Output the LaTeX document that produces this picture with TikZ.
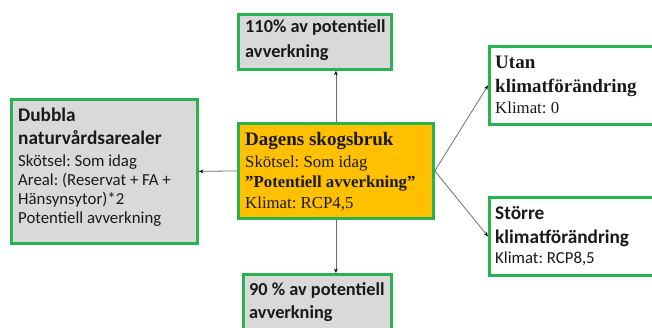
\documentclass[tikz,border=0pt]{standalone}
\usepackage{fontspec}
\newfontfamily\calfont{Carlito}
\newfontfamily\timesfont{Liberation Serif}
\usetikzlibrary{arrows.meta}
\definecolor{boxgreen}{RGB}{40,178,80}
\definecolor{boxgray}{RGB}{217,217,217}
\definecolor{boxorange}{RGB}{255,192,0}
\definecolor{linkgray}{RGB}{110,110,110}
\definecolor{inktext}{RGB}{25,25,25}
\frenchspacing
\begin{document}
\begin{tikzpicture}[x=1pt,y=-1pt,
  card/.style={draw=boxgreen, line width=2.8pt, inner sep=0pt, anchor=north west},
  graycard/.style={card, fill=boxgray},
  orangecard/.style={card, fill=boxorange},
  whitecard/.style={card, fill=white},
  % texts are placed by the baseline of their last line
  txt/.style={anchor=base west, inner sep=0pt, align=left, text=inktext},
  caltxt/.style={txt, font=\calfont\fontsize{16.8}{19}\selectfont},
  timtxt/.style={txt, font=\timesfont\fontsize{16.8}{20.5}\selectfont},
  link/.style={draw=linkgray, line width=0.8pt, -{Stealth[length=4.5pt,width=3.6pt,black]}}]
\useasboundingbox (0,0) rectangle (652,327);
\clip (0,0) rectangle (652,327);

% boxes
\node[graycard, minimum width=153pt, minimum height=55pt] (top) at (237,13) {};
\node[orangecard, minimum width=195pt, minimum height=95pt] (main) at (237,122) {};
\node[graycard, minimum width=186pt, minimum height=144pt] (left) at (10,98) {};
\node[graycard, minimum width=148pt, minimum height=70pt] (bottom) at (242,273) {};
\node[whitecard, minimum width=175pt, minimum height=78pt] (calm) at (488,45) {};
\node[whitecard, minimum width=175pt, minimum height=78pt] (warm) at (488,196) {};

% texts
\node[caltxt, font=\calfont\bfseries\fontsize{18.3}{24.5}\selectfont] (toptext) at (245,57)
  {110\% av potentiell\\avverkning};
\node[caltxt, font=\calfont\bfseries\fontsize{18.3}{22.5}\selectfont] (bottomtext) at (249,318)
  {90 \% av potentiell\\avverkning};
\node[caltxt] (lefttext) at (18,223)
  {{\bfseries\fontsize{19.3}{19}\selectfont Dubbla}\\[4pt]
   {\bfseries\fontsize{19.3}{19}\selectfont naturvårdsarealer}\\[3pt]
   Skötsel: Som idag\\
   Areal: (Reservat + FA +\\
   Hänsynsytor)*2\\
   Potentiell avverkning};
\node[timtxt] (maintext) at (245,208)
  {{\bfseries\fontsize{19}{20.5}\selectfont Dagens skogsbruk}\\[1pt]
   Skötsel: Som idag\\
   {\bfseries ”Potentiell avverkning”}\\
   Klimat: RCP4,5};
\node[timtxt] (calmtext) at (495,113)
  {{\bfseries\fontsize{19}{20.5}\selectfont Utan}\\[4pt]
   {\bfseries\fontsize{19}{20.5}\selectfont klimatförändring}\\
   Klimat: 0};
\node[caltxt] (warmtext) at (495,263)
  {{\bfseries\fontsize{19.3}{19}\selectfont Större}\\[5pt]
   {\bfseries\fontsize{19.3}{19}\selectfont klimatförändring}\\[1pt]
   Klimat: RCP8,5};

% connectors
\draw[link] (main.north) -- (main.north |- top.south);
\draw[link] (main.south) -- (main.south |- bottom.north);
\draw[link] (main.west) -- (left.east);
\draw[link] (main.east) -- (calm.west);
\draw[link] (main.east) -- (warm.west);
\end{tikzpicture}
\end{document}
